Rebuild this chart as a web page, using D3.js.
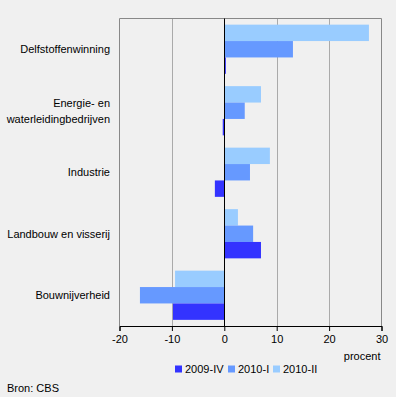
<!DOCTYPE html>
<html><head><meta charset="utf-8">
<script src="https://cdn.jsdelivr.net/npm/d3@7"></script>
<style>
html,body{margin:0;padding:0;background:#f0f0f0;}
svg{display:block;font-family:"Liberation Sans",Arial,sans-serif;}
</style></head>
<body>
<svg id="c" width="396" height="397"></svg>
<script>
const categories = ["Delfstoffenwinning", "Energie- en\nwaterleidingbedrijven", "Industrie", "Landbouw en visserij", "Bouwnijverheid"];
const seriesNames = ["2010-II", "2010-I", "2009-IV"];
const v2010II = [27.6, 7.0, 8.7, 2.6, -9.4];
const v2010I = [13.1, 3.9, 4.9, 5.5, -16.1];
const v2009IV = [0.3, -0.3, -1.8, 7.0, -9.8];
const xTicks = [-20, -10, 0, 10, 20, 30];
const legendNames = ["2009-IV", "2010-I", "2010-II"];
const colors = {"2009-IV": "#3333ff", "2010-I": "#6699ff", "2010-II": "#99ccff"};

const seriesValues = {"2010-II": v2010II, "2010-I": v2010I, "2009-IV": v2009IV};
const svg = d3.select("#c");
const L = 119.5, R = 381.5, T = 18.5, B = 326;
const x = d3.scaleLinear().domain([-20, 30]).range([L, R]);
const y = d3.scaleBand().domain(categories).range([T, B]).paddingInner(0.2).paddingOuter(0.1);
const ys = d3.scaleBand().domain(seriesNames).range([0, y.bandwidth()]);

// gridlines
svg.append("g").selectAll("line").data(xTicks.filter(t => t !== 0 && t !== -20 && t !== 30)).join("line")
  .attr("x1", d => Math.round(x(d)) + 0.5).attr("x2", d => Math.round(x(d)) + 0.5)
  .attr("y1", T).attr("y2", B).attr("stroke", "#aaaaaa");
// frame
svg.append("path").attr("d", `M${L},${B}V${T}H${R}V${B}`).attr("fill", "none").attr("stroke", "#888888");

// bars
const data = [];
categories.forEach((c, i) => seriesNames.forEach(s => data.push({c, s, v: seriesValues[s][i]})));
svg.append("g").selectAll("rect").data(data).join("rect")
  .attr("x", d => x(Math.min(0, d.v)))
  .attr("width", d => Math.abs(x(d.v) - x(0)))
  .attr("y", d => y(d.c) + ys(d.s))
  .attr("height", ys.bandwidth())
  .attr("fill", d => colors[d.s]);

// zero line
svg.append("line").attr("x1", Math.round(x(0)) + 0.5).attr("x2", Math.round(x(0)) + 0.5)
  .attr("y1", T).attr("y2", B).attr("stroke", "#000");

// x axis
const ax = svg.append("g").attr("transform", `translate(0,${B})`)
  .call(d3.axisBottom(x).tickValues(xTicks).tickSize(5).tickPadding(4).tickFormat(d => String(d)));
ax.select(".domain").attr("stroke", "#000");
ax.selectAll(".tick line").attr("stroke", "#000");
ax.selectAll("text").attr("font-size", 11).attr("fill", "#000").style("font-family", "Liberation Sans, Arial, sans-serif");

svg.append("text").attr("x", R - 1).attr("y", 360).attr("text-anchor", "end")
  .attr("font-size", 11).text("procent");

// category labels
const lab = svg.append("g").selectAll("text").data(categories).join("text")
  .attr("text-anchor", "end").attr("font-size", 11)
  .attr("transform", d => `translate(110,${y(d) + y.bandwidth() / 2})`);
lab.each(function(d) {
  const lines = d.split("\n");
  const t = d3.select(this);
  lines.forEach((ln, i) => {
    t.append("tspan").attr("x", 0).attr("y", (i - (lines.length - 1) / 2) * 16 + 4).text(ln);
  });
});

// legend
const legX = [175, 228, 273];
const lg = svg.append("g").selectAll("g").data(legendNames).join("g")
  .attr("transform", (d, i) => `translate(${legX[i]},0)`);
lg.append("rect").attr("x", 0).attr("y", 365.5).attr("width", 7).attr("height", 7).attr("fill", d => colors[d]);
lg.append("text").attr("x", 10).attr("y", 373).attr("font-size", 11).text(d => d);

svg.append("text").attr("x", 7).attr("y", 392).attr("font-size", 11).text("Bron: CBS");
</script>
</body></html>
